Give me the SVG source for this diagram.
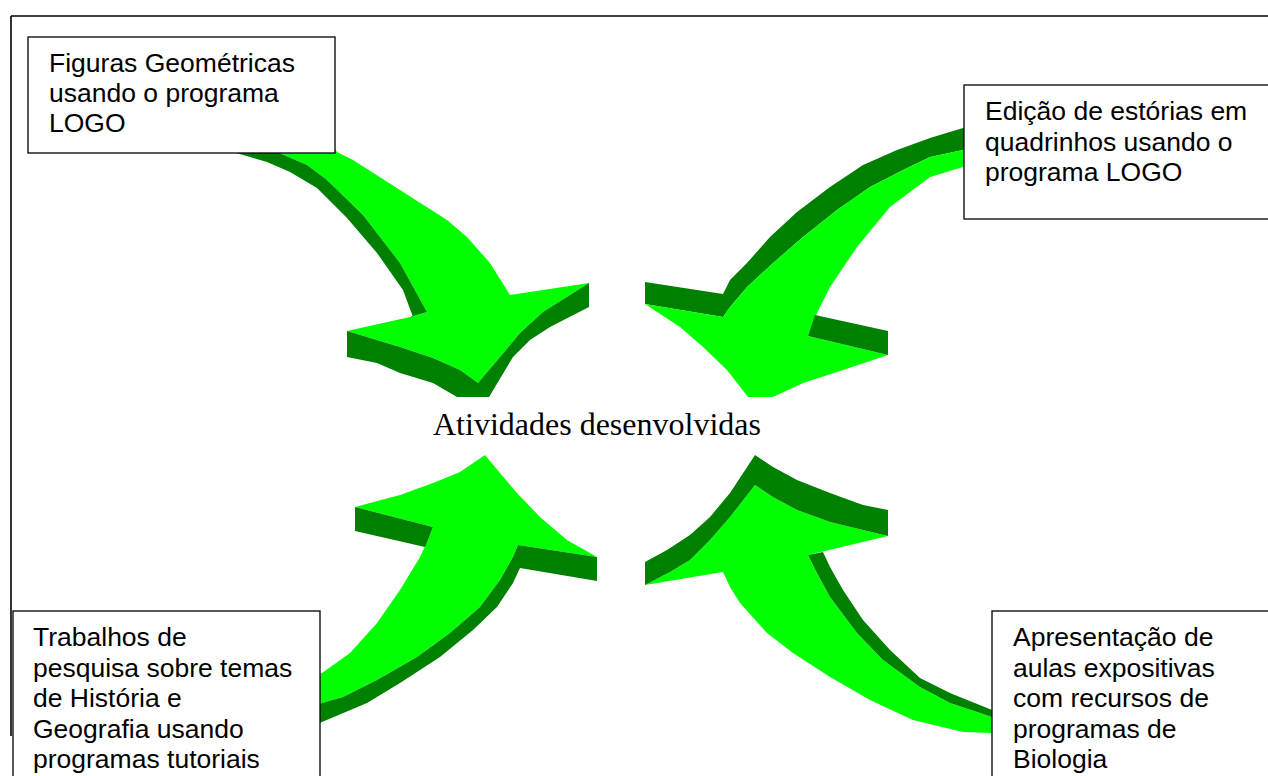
<svg xmlns="http://www.w3.org/2000/svg" width="1268" height="776" viewBox="0 0 1268 776">
  <style>
    .lite { fill: #00ff00; }
    .dark { fill: #008000; }
    .box { fill: #ffffff; stroke: #000000; stroke-width: 1.3; }
    .frame { stroke: #000000; stroke-width: 1.6; fill: none; }
    .label { font-family: "Liberation Sans", Arial, sans-serif; font-size: 26.5px; fill: #000000; }
    .title { font-family: "Liberation Serif", "Times New Roman", serif; font-size: 32px; fill: #000000; }
  </style>

  <rect x="0" y="0" width="1268" height="776" fill="#ffffff"/>

  <!-- page frame -->
  <g id="frame">
    <line class="frame" x1="11" y1="16" x2="1268" y2="16"/>
    <line class="frame" x1="11" y1="16" x2="11" y2="736"/>
  </g>

  <!-- curved 3D arrows pointing to the centre -->
  <g id="connectors">
    <!-- top-left arrow, down-right -->
    <g id="arrow-tl">
      <polygon class="lite" points="270,140 330,140 337,152 353,160 400,190 447,220 467,237 490,263 510,295 589,283 543,312 520,333 500,357 478,383 460,370 433,358 400,347 347,331 410,317 427,312 400,263 363,215 327,180 307,165 277,152"/>
      <polygon class="dark" points="220,146 270,140 277,152 307,165 327,180 363,215 400,263 427,312 410,317 413,317 403,290 377,253 347,218 317,188 290,172 267,162 233,152"/>
      <polygon class="dark" points="347,331 400,347 433,358 460,370 478,383 478,397 457,397 433,383 400,373 377,363 347,357"/>
      <polygon class="dark" points="478,383 500,357 520,333 543,312 589,283 589,307 550,327 530,340 513,357 489,397 478,397"/>
    </g>

    <!-- top-right arrow, down-left -->
    <g id="arrow-tr">
      <polygon class="dark" points="645,282 723,294 730,280 747,263 770,237 797,212 830,187 863,165 897,150 930,138 963,128 985,124 985,146 963,150 930,157 903,170 870,187 837,210 803,237 773,263 747,287 730,307 723,317 645,304"/>
      <polygon class="lite" points="645,304 723,317 730,307 747,287 773,263 803,237 837,210 870,187 903,170 930,157 963,150 985,146 985,163 963,167 930,177 890,207 857,247 830,287 817,313 808,336 888,355 843,370 803,383 773,397 748,397 727,370 703,347 680,327"/>
      <polygon class="dark" points="815,315 888,331 888,355 808,336"/>
    </g>

    <!-- bottom-left arrow, up-right -->
    <g id="arrow-bl">
      <polygon class="lite" points="485,455 500,473 517,493 540,517 567,540 597,557 518,545 513,557 500,580 480,607 450,633 417,657 377,680 343,697 322,703 300,710 300,680 322,673 350,653 377,623 400,590 420,557 428,540 433,527 355,507 400,495 433,483 460,472"/>
      <polygon class="dark" points="355,507 433,527 428,540 425,547 355,531"/>
      <polygon class="dark" points="597,557 597,581 520,568 513,583 497,607 473,630 440,657 400,683 367,703 322,722 300,730 300,710 322,703 343,697 377,680 417,657 450,633 480,607 500,580 513,557 518,545"/>
    </g>

    <!-- bottom-right arrow, up-left -->
    <g id="arrow-br">
      <polygon class="lite" points="755,485 773,497 797,510 830,522 863,530 888,536 808,555 817,573 830,597 857,633 883,660 920,687 950,703 992,717 1010,723 1010,736 992,733 963,732 913,720 870,700 830,677 793,653 767,633 740,603 730,587 723,572 645,585 670,572 690,560 710,540 730,517"/>
      <polygon class="dark" points="645,562 667,550 690,535 710,517 730,493 755,455 773,467 797,480 830,493 863,505 888,510 888,536 863,530 830,522 797,510 773,497 755,485 730,517 710,540 690,560 670,572 645,585"/>
      <polygon class="dark" points="808,555 823,552 830,567 843,590 863,620 890,650 920,678 950,693 992,710 1010,716 1010,723 992,717 950,703 920,687 883,660 857,633 830,597 817,573"/>
    </g>
  </g>

  <!-- centre caption -->
  <g id="centre">
    <text class="title" x="433" y="435">Atividades desenvolvidas</text>
  </g>

  <!-- activity boxes -->
  <g id="box-figuras">
    <rect class="box" x="28" y="37" width="307" height="116"/>
    <text class="label" x="49" y="72">Figuras Geométricas</text>
    <text class="label" x="49" y="102">usando o programa</text>
    <text class="label" x="49" y="132">LOGO</text>
  </g>

  <g id="box-edicao">
    <rect class="box" x="964" y="85" width="320" height="134"/>
    <text class="label" x="985" y="120">Edição de estórias em</text>
    <text class="label" x="985" y="150.5">quadrinhos usando o</text>
    <text class="label" x="985" y="181">programa LOGO</text>
  </g>

  <g id="box-trabalhos">
    <rect class="box" x="13" y="611" width="307" height="180"/>
    <text class="label" x="33" y="646">Trabalhos de</text>
    <text class="label" x="33" y="676.5">pesquisa sobre temas</text>
    <text class="label" x="33" y="707">de História e</text>
    <text class="label" x="33" y="737.5">Geografia usando</text>
    <text class="label" x="33" y="768">programas tutoriais</text>
  </g>

  <g id="box-apresentacao">
    <rect class="box" x="992" y="611" width="300" height="180"/>
    <text class="label" x="1013" y="646">Apresentação de</text>
    <text class="label" x="1013" y="676.5">aulas expositivas</text>
    <text class="label" x="1013" y="707">com recursos de</text>
    <text class="label" x="1013" y="737.5">programas de</text>
    <text class="label" x="1013" y="768">Biologia</text>
  </g>
</svg>
